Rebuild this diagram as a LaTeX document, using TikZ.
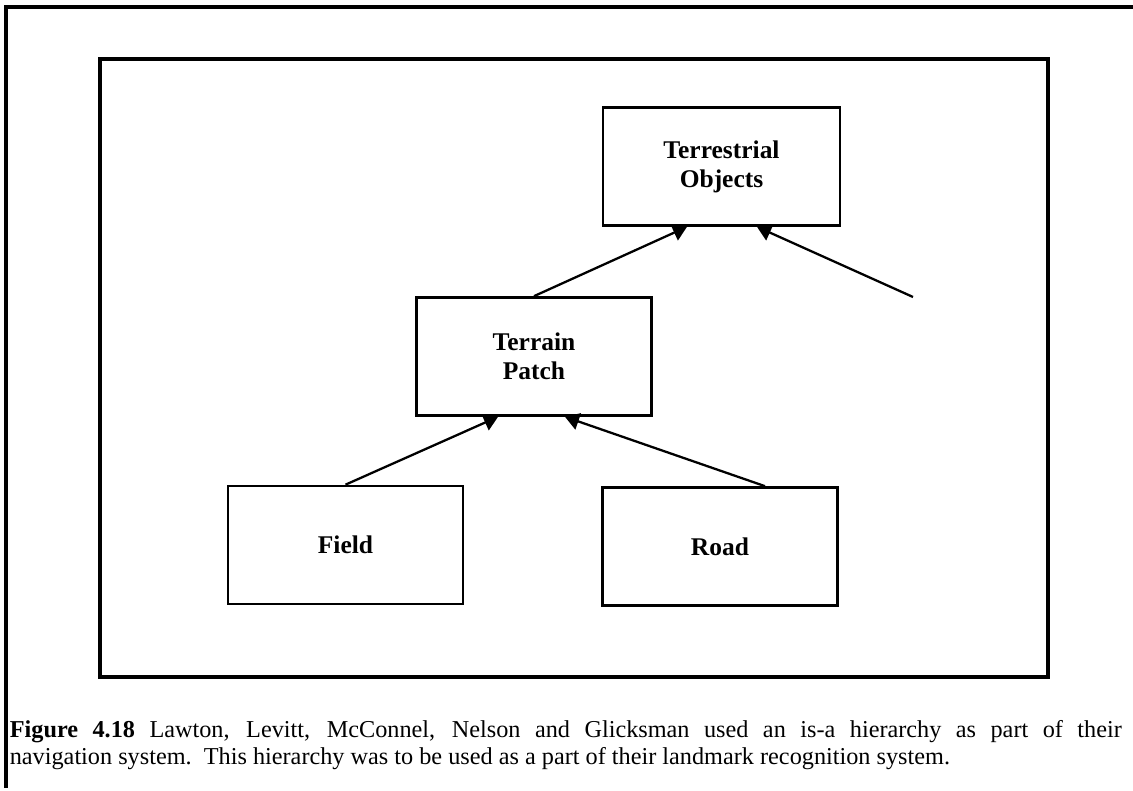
\documentclass[tikz,border=0pt]{standalone}
\usepackage{fontspec}
\setmainfont{Liberation Serif}
\usepackage{tikz}
\usetikzlibrary{arrows.meta,positioning}

\begin{document}
\begin{tikzpicture}[
	frame/.style={line width=2pt},
	kind/.style={draw, line width=1.5pt, rectangle, minimum width=4.7cm, minimum height=2.36cm,
		align=center, font=\fontsize{14.5}{16.4}\selectfont\bfseries},
	isa/.style={line width=1.3pt, -{Triangle[length=0.28cm,width=0.34cm]}}]
	\useasboundingbox (0,0) rectangle (22.66,15.82);
	
	\draw[frame] (22.66,15.68) -- (0.12,15.68) -- (0.12,0.06);
	\draw[frame] (2.0,2.28) rectangle (20.96,14.64);
	
	\node[kind, minimum width=4.74cm] (terr) at (14.43,12.49) {Terrestrial\\Objects};
	\node[kind] (patch) at (10.68,8.69) {Terrain\\Patch};
	\node[kind] (field) at (6.91,4.92) {Field};
	\node[kind] (road) at (14.40,4.89) {Road};
	\coordinate (other) at (18.26,9.88);
	
	\draw[isa] (patch.north) -- ([xshift=-0.69cm]terr.south);
	\draw[isa] (other) -- ([xshift=0.71cm]terr.south);
	\draw[isa] (field.north) -- ([xshift=-0.72cm]patch.south);
	\draw[isa] ([xshift=0.9cm]road.north) -- ([xshift=0.62cm]patch.south);
	
	\node[anchor=north west, text width=22.24cm, align=justify, inner sep=0pt,
		font=\fontsize{13.8}{15.3}\selectfont] (caption) at (0.19,1.42)
		{\hbadness=10000 \textbf{Figure 4.18} Lawton, Levitt, McConnel, Nelson and Glicksman used an is-a hierarchy as part of their\linebreak
		navigation system.\ \ This hierarchy was to be used as a part of their landmark recognition system.};
\end{tikzpicture}
\end{document}
